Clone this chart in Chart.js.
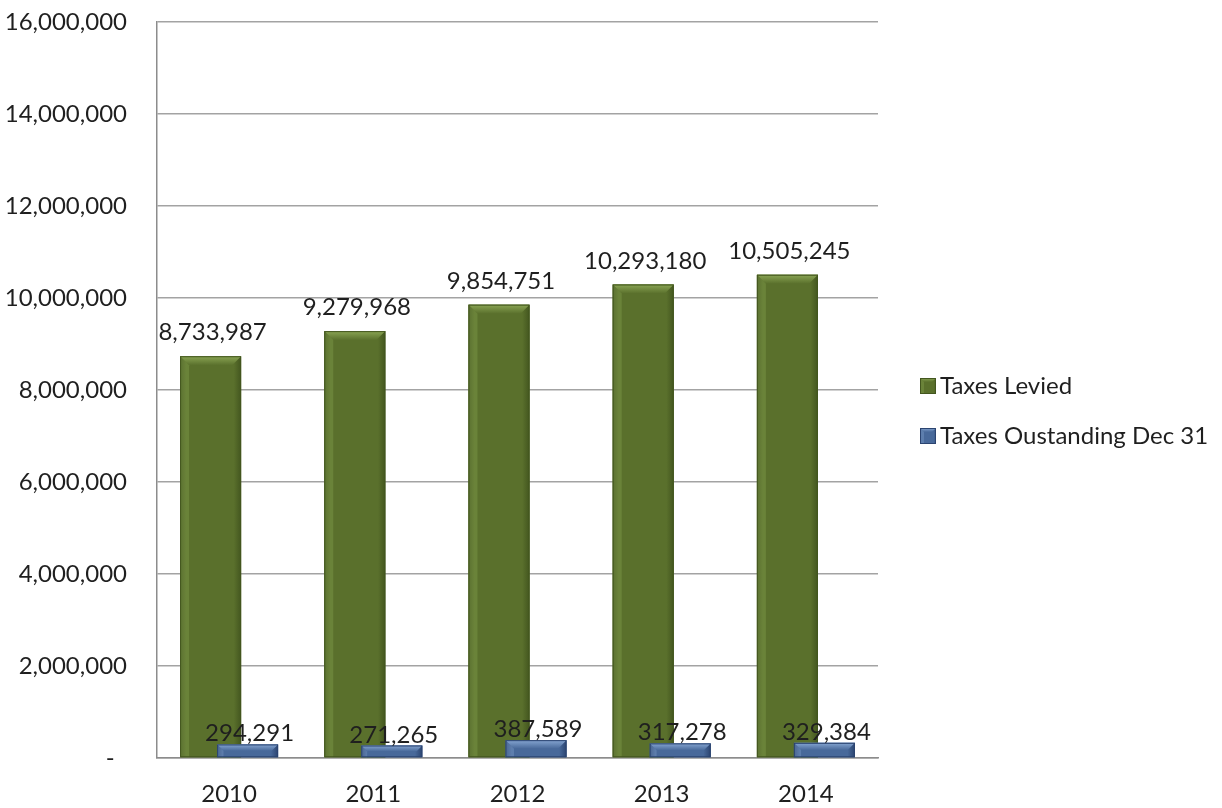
<!DOCTYPE html>
<html>
<head>
<meta charset="utf-8">
<title>Taxes Levied vs Outstanding</title>
<script src="https://cdn.jsdelivr.net/npm/chart.js@4.4.1/dist/chart.umd.min.js"></script>
<style>
  body { margin: 0; background: #fff; }
  #wrap { width: 1222px; height: 808px; position: relative; }
</style>
</head>
<body>
<div id="wrap"><canvas id="taxChart"></canvas></div>
<script>
const years = ['2010', '2011', '2012', '2013', '2014'];
const taxesLevied = [8733987, 9279968, 9854751, 10293180, 10505245];
const taxesOutstanding = [294291, 271265, 387589, 317278, 329384];
const seriesNames = ['Taxes Levied', 'Taxes Oustanding Dec 31'];
const yMax = 16000000;
const yStep = 2000000;

const FONT = 'Lato, "Open Sans", sans-serif';
const TEXT = '#1f1f1f';

// body / highlight / edge colours for the bevelled bars
const palette = [
  { body: '#5a702c', light: '#8aa554', dark: '#43561f' },
  { body: '#48699a', light: '#86a6d2', dark: '#2b4470' }
];
// gap between bar top and its value label
const labelGap = [16, 3];

function shadeBox(ctx, left, top, width, height, c) {
  const right = left + width;
  const bottom = top + height;
  const b = Math.min(9, height / 2, width / 4);

  let g = ctx.createLinearGradient(left, 0, right, 0);
  g.addColorStop(0, c.dark);
  g.addColorStop(0.1, c.body);
  g.addColorStop(0.88, c.body);
  g.addColorStop(1, c.dark);
  ctx.fillStyle = g;
  ctx.fillRect(left, top, width, height);

  // top bevel
  ctx.beginPath();
  ctx.moveTo(left, top);
  ctx.lineTo(right, top);
  ctx.lineTo(right - b, top + b);
  ctx.lineTo(left + b, top + b);
  ctx.closePath();
  g = ctx.createLinearGradient(0, top, 0, top + b);
  g.addColorStop(0, c.light);
  g.addColorStop(1, c.body);
  ctx.fillStyle = g;
  ctx.fill();

  // thin left highlight below the bevel
  ctx.globalAlpha = 0.35;
  ctx.beginPath();
  ctx.moveTo(left, top);
  ctx.lineTo(left + b, top + b);
  ctx.lineTo(left + b, bottom);
  ctx.lineTo(left, bottom);
  ctx.closePath();
  ctx.fillStyle = c.light;
  ctx.fill();
  ctx.globalAlpha = 1;

  ctx.strokeStyle = c.dark;
  ctx.lineWidth = 1;
  ctx.strokeRect(left + 0.5, top + 0.5, width - 1, height - 1);
}

// repaint bars with a bevel; second series is painted last so it sits in front
const bevelBars = {
  id: 'bevelBars',
  afterDatasetsDraw(chart) {
    const ctx = chart.ctx;
    ctx.save();
    chart.data.datasets.forEach((ds, i) => {
      chart.getDatasetMeta(i).data.forEach(el => {
        const { x, y, base, width } = el.getProps(['x', 'y', 'base', 'width'], true);
        shadeBox(ctx, x - width / 2, y, width, base - y, palette[i]);
      });
    });
    ctx.restore();
  }
};

const valueLabels = {
  id: 'valueLabels',
  afterDatasetsDraw(chart) {
    const ctx = chart.ctx;
    ctx.save();
    ctx.font = '24px ' + FONT;
    ctx.fillStyle = TEXT;
    ctx.textAlign = 'center';
    ctx.textBaseline = 'alphabetic';
    chart.data.datasets.forEach((ds, i) => {
      chart.getDatasetMeta(i).data.forEach((el, j) => {
        ctx.fillText(ds.data[j].toLocaleString('en-US'), el.x + 2, el.y - labelGap[i]);
      });
    });
    ctx.restore();
  }
};

const sideLegend = {
  id: 'sideLegend',
  afterDraw(chart) {
    const ctx = chart.ctx;
    const x = 920;
    ctx.save();
    ctx.font = '24px ' + FONT;
    ctx.textBaseline = 'middle';
    chart.data.datasets.forEach((ds, i) => {
      const cy = 386 + i * 50;
      shadeBox(ctx, x, cy - 8, 16, 16, palette[i]);
      ctx.fillStyle = TEXT;
      ctx.fillText(ds.label, x + 20, cy);
    });
    ctx.restore();
  }
};

new Chart(document.getElementById('taxChart'), {
  type: 'bar',
  data: {
    labels: years,
    datasets: [
      {
        label: seriesNames[0],
        data: taxesLevied,
        backgroundColor: palette[0].body,
        categoryPercentage: 0.513,
        barPercentage: 1.65
      },
      {
        label: seriesNames[1],
        data: taxesOutstanding,
        backgroundColor: palette[1].body,
        categoryPercentage: 0.513,
        barPercentage: 1.65
      }
    ]
  },
  options: {
    responsive: true,
    maintainAspectRatio: false,
    animation: false,
    devicePixelRatio: 1,
    layout: { padding: { top: 22, right: 344, bottom: 0, left: 0 } },
    plugins: {
      legend: { display: false },
      tooltip: { enabled: false }
    },
    scales: {
      x: {
        grid: { display: false, drawTicks: false },
        border: { color: '#8c8c8c', width: 1.5 },
        afterFit(scale) { scale.height = 50; },
        ticks: {
          color: TEXT,
          font: { family: FONT, size: 24 },
          padding: 22
        }
      },
      y: {
        min: 0,
        max: yMax,
        grid: { color: '#a3a3a3', lineWidth: 1.5, drawTicks: false },
        border: { color: '#8c8c8c', width: 1.5 },
        afterFit(scale) {
          scale.width = 157;
          scale.paddingTop = 0;
          scale.paddingBottom = 0;
        },
        ticks: {
          stepSize: yStep,
          color: TEXT,
          font: { family: FONT, size: 24 },
          padding: 30,
          callback: v => v === 0 ? '-  ' : v.toLocaleString('en-US')
        }
      }
    }
  },
  plugins: [bevelBars, valueLabels, sideLegend]
});
</script>
</body>
</html>
